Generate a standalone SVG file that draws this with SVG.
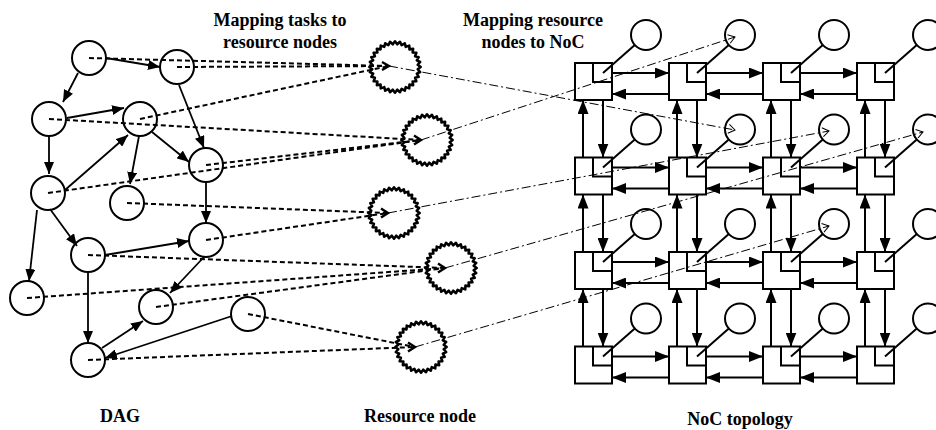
<svg xmlns="http://www.w3.org/2000/svg" width="936" height="430" viewBox="0 0 936 430">
  <style>
    .lbl { font-family: "Liberation Serif", "Times New Roman", serif; font-weight: bold; font-size: 18px; text-anchor: middle; fill: #000; }
    .task { fill: none; stroke: #000; stroke-width: 2; }
    .edge { fill: none; stroke: #000; stroke-width: 1.8; marker-end: url(#head); }
    .map { fill: none; stroke: #000; stroke-width: 2; stroke-dasharray: 5 3; }
    .place { fill: none; stroke: #000; stroke-width: 1; stroke-dasharray: 9 3 2 3; marker-end: url(#open); }
    .gear { fill: none; stroke: #000; stroke-width: 2.4; stroke-linejoin: round; }
    .chev { fill: none; stroke: #000; stroke-width: 2.4; stroke-linejoin: miter; }
    .box { fill: #fff; stroke: #000; stroke-width: 2; }
    .wire { fill: none; stroke: #000; stroke-width: 2; }
    .link { fill: none; stroke: #000; stroke-width: 2; marker-end: url(#nhead); }
  </style>
  <defs>
    <marker id="head" viewBox="0 0 12 10" refX="12" refY="5" markerWidth="12" markerHeight="10" markerUnits="userSpaceOnUse" orient="auto">
      <path d="M0,0 L12,5 L0,10 Z" fill="#000"/>
    </marker>
    <marker id="nhead" viewBox="0 0 14 11" refX="14" refY="5.5" markerWidth="14" markerHeight="11" markerUnits="userSpaceOnUse" orient="auto">
      <path d="M0,0 L14,5.5 L0,11 Z" fill="#000"/>
    </marker>
    <marker id="open" viewBox="0 0 8 10" refX="7" refY="5" markerWidth="8" markerHeight="10" markerUnits="userSpaceOnUse" orient="auto">
      <path d="M0.5,0.5 L7,5 L0.5,9.5" fill="none" stroke="#000" stroke-width="1"/>
    </marker>
    <!-- toothed ring for a resource node, 32 teeth -->
    <path id="gear" class="gear" d="M24,0 L21.20,2.09 L23.54,4.68 L20.38,6.18 L22.17,9.18 L18.78,10.04 L19.96,13.33 L16.46,13.51 L16.97,16.97 L13.51,16.46 L13.33,19.96 L10.04,18.78 L9.18,22.17 L6.18,20.38 L4.68,23.54 L2.09,21.20 L0,24 L-2.09,21.20 L-4.68,23.54 L-6.18,20.38 L-9.18,22.17 L-10.04,18.78 L-13.33,19.96 L-13.51,16.46 L-16.97,16.97 L-16.46,13.51 L-19.96,13.33 L-18.78,10.04 L-22.17,9.18 L-20.38,6.18 L-23.54,4.68 L-21.20,2.09 L-24,0 L-21.20,-2.09 L-23.54,-4.68 L-20.38,-6.18 L-22.17,-9.18 L-18.78,-10.04 L-19.96,-13.33 L-16.46,-13.51 L-16.97,-16.97 L-13.51,-16.46 L-13.33,-19.96 L-10.04,-18.78 L-9.18,-22.17 L-6.18,-20.38 L-4.68,-23.54 L-2.09,-21.20 L0,-24 L2.09,-21.20 L4.68,-23.54 L6.18,-20.38 L9.18,-22.17 L10.04,-18.78 L13.33,-19.96 L13.51,-16.46 L16.97,-16.97 L16.46,-13.51 L19.96,-13.33 L18.78,-10.04 L22.17,-9.18 L20.38,-6.18 L23.54,-4.68 L21.20,-2.09 Z"/>
    <!-- router with its local processing element -->
    <g id="router">
      <rect class="box" x="0" y="0" width="37" height="37"/>
      <path class="wire" d="M18,0 V19 H37"/>
      <line class="wire" x1="28" y1="10" x2="59.8" y2="-18.1"/>
      <circle class="task" cx="71" cy="-28" r="15"/>
    </g>
    <!-- east/west link pair -->
    <g id="hlink">
      <line class="link" x1="37" y1="10" x2="94" y2="10"/>
      <line class="link" x1="94" y1="31" x2="37" y2="31"/>
    </g>
    <!-- north/south link pair -->
    <g id="vlink">
      <line class="link" x1="8" y1="94.5" x2="8" y2="37"/>
      <line class="link" x1="28" y1="37" x2="28" y2="94.5"/>
    </g>
  </defs>

  <rect width="936" height="430" fill="#fff"/>

  <!-- DAG tasks -->
  <g id="task-a"><circle class="task" cx="89" cy="58" r="17"/></g>
  <g id="task-b"><circle class="task" cx="177" cy="67" r="17"/></g>
  <g id="task-c"><circle class="task" cx="49" cy="119" r="17"/></g>
  <g id="task-d"><circle class="task" cx="140" cy="119" r="17"/></g>
  <g id="task-e"><circle class="task" cx="206" cy="165" r="17"/></g>
  <g id="task-f"><circle class="task" cx="48" cy="193" r="17"/></g>
  <g id="task-g"><circle class="task" cx="127" cy="203" r="17"/></g>
  <g id="task-h"><circle class="task" cx="206" cy="240" r="17"/></g>
  <g id="task-i"><circle class="task" cx="88" cy="255" r="17"/></g>
  <g id="task-j"><circle class="task" cx="27" cy="298" r="17"/></g>
  <g id="task-k"><circle class="task" cx="156" cy="307" r="17"/></g>
  <g id="task-l"><circle class="task" cx="248" cy="314" r="17"/></g>
  <g id="task-m"><circle class="task" cx="88" cy="360" r="17"/></g>

  <!-- resource nodes -->
  <g id="res-1"><use href="#gear" transform="translate(395,67) scale(1.07)"/><path class="chev" d="M382,62 L389,66 L382,70"/></g>
  <g id="res-2"><use href="#gear" transform="translate(427,140) scale(1.07)"/><path class="chev" d="M414,135.5 L421,140 L414,144.5"/></g>
  <g id="res-3"><use href="#gear" transform="translate(394,213) scale(1.07)"/><path class="chev" d="M381,208.5 L388,213 L381,217.5"/></g>
  <g id="res-4"><use href="#gear" transform="translate(451,268) scale(1.07)"/><path class="chev" d="M438,263.5 L445,268 L438,272.5"/></g>
  <g id="res-5"><use href="#gear" transform="translate(421,347) scale(1.07)"/><path class="chev" d="M408,342.5 L415,347 L408,351.5"/></g>

  <!-- NoC routers, 4 x 4 mesh -->
  <g id="router-1-1"><use href="#router" x="575" y="63"/></g>
  <g id="router-1-2"><use href="#router" x="669" y="63"/></g>
  <g id="router-1-3"><use href="#router" x="763" y="63"/></g>
  <g id="router-1-4"><use href="#router" x="857" y="63"/></g>
  <g id="router-2-1"><use href="#router" x="575" y="157.5"/></g>
  <g id="router-2-2"><use href="#router" x="669" y="157.5"/></g>
  <g id="router-2-3"><use href="#router" x="763" y="157.5"/></g>
  <g id="router-2-4"><use href="#router" x="857" y="157.5"/></g>
  <g id="router-3-1"><use href="#router" x="575" y="252"/></g>
  <g id="router-3-2"><use href="#router" x="669" y="252"/></g>
  <g id="router-3-3"><use href="#router" x="763" y="252"/></g>
  <g id="router-3-4"><use href="#router" x="857" y="252"/></g>
  <g id="router-4-1"><use href="#router" x="575" y="346.5"/></g>
  <g id="router-4-2"><use href="#router" x="669" y="346.5"/></g>
  <g id="router-4-3"><use href="#router" x="763" y="346.5"/></g>
  <g id="router-4-4"><use href="#router" x="857" y="346.5"/></g>

  <g id="connectors">
    <!-- task dependencies -->
    <line class="edge" x1="106" y1="58" x2="160" y2="67"/>
    <line class="edge" x1="78" y1="73" x2="63" y2="102"/>
    <line class="edge" x1="67" y1="118" x2="124" y2="108"/>
    <line class="edge" x1="179" y1="85" x2="204" y2="148"/>
    <line class="edge" x1="49" y1="136" x2="49" y2="174"/>
    <line class="edge" x1="65" y1="190" x2="128" y2="135"/>
    <line class="edge" x1="139" y1="136" x2="130" y2="184"/>
    <line class="edge" x1="152" y1="132" x2="189" y2="162"/>
    <line class="edge" x1="206" y1="182" x2="206" y2="223"/>
    <line class="edge" x1="50" y1="209" x2="77" y2="246"/>
    <line class="edge" x1="37" y1="210" x2="29" y2="281"/>
    <line class="edge" x1="105" y1="255" x2="189" y2="241"/>
    <line class="edge" x1="204" y1="257" x2="170" y2="293"/>
    <line class="edge" x1="88" y1="272" x2="88" y2="343"/>
    <line class="edge" x1="102" y1="348" x2="143" y2="321"/>
    <line class="edge" x1="232" y1="316" x2="105" y2="358"/>

    <!-- task to resource mapping -->
    <line class="map" x1="89" y1="58" x2="389" y2="66"/>
    <line class="map" x1="177" y1="67" x2="389" y2="66"/>
    <line class="map" x1="140" y1="119" x2="389" y2="66"/>
    <line class="map" x1="49" y1="119" x2="421" y2="140"/>
    <line class="map" x1="206" y1="165" x2="421" y2="140"/>
    <line class="map" x1="48" y1="193" x2="421" y2="140"/>
    <line class="map" x1="127" y1="203" x2="388" y2="213"/>
    <line class="map" x1="206" y1="240" x2="388" y2="213"/>
    <line class="map" x1="88" y1="255" x2="445" y2="268"/>
    <line class="map" x1="27" y1="298" x2="445" y2="268"/>
    <line class="map" x1="156" y1="307" x2="445" y2="268"/>
    <line class="map" x1="248" y1="314" x2="415" y2="347"/>
    <line class="map" x1="88" y1="360" x2="415" y2="347"/>

    <!-- resource to NoC placement -->
    <line class="place" x1="389" y1="66" x2="735" y2="130"/>
    <line class="place" x1="421" y1="140" x2="735" y2="37"/>
    <line class="place" x1="388" y1="213" x2="829" y2="131"/>
    <line class="place" x1="445" y1="268" x2="923" y2="132"/>
    <line class="place" x1="415" y1="347" x2="829" y2="226"/>

    <!-- mesh links, row by row -->
    <use href="#hlink" x="575" y="63"/>
    <use href="#hlink" x="669" y="63"/>
    <use href="#hlink" x="763" y="63"/>
    <use href="#hlink" x="575" y="157.5"/>
    <use href="#hlink" x="669" y="157.5"/>
    <use href="#hlink" x="763" y="157.5"/>
    <use href="#hlink" x="575" y="252"/>
    <use href="#hlink" x="669" y="252"/>
    <use href="#hlink" x="763" y="252"/>
    <use href="#hlink" x="575" y="346.5"/>
    <use href="#hlink" x="669" y="346.5"/>
    <use href="#hlink" x="763" y="346.5"/>
    <use href="#vlink" x="575" y="63"/>
    <use href="#vlink" x="669" y="63"/>
    <use href="#vlink" x="763" y="63"/>
    <use href="#vlink" x="857" y="63"/>
    <use href="#vlink" x="575" y="157.5"/>
    <use href="#vlink" x="669" y="157.5"/>
    <use href="#vlink" x="763" y="157.5"/>
    <use href="#vlink" x="857" y="157.5"/>
    <use href="#vlink" x="575" y="252"/>
    <use href="#vlink" x="669" y="252"/>
    <use href="#vlink" x="763" y="252"/>
    <use href="#vlink" x="857" y="252"/>
  </g>

  <!-- captions -->
  <text class="lbl" x="280" y="26">Mapping tasks to</text>
  <text class="lbl" x="280" y="48">resource nodes</text>
  <text class="lbl" x="533" y="26">Mapping resource</text>
  <text class="lbl" x="533" y="48">nodes to NoC</text>
  <text class="lbl" x="120" y="422">DAG</text>
  <text class="lbl" x="420" y="422">Resource node</text>
  <text class="lbl" x="740" y="425">NoC topology</text>
</svg>
